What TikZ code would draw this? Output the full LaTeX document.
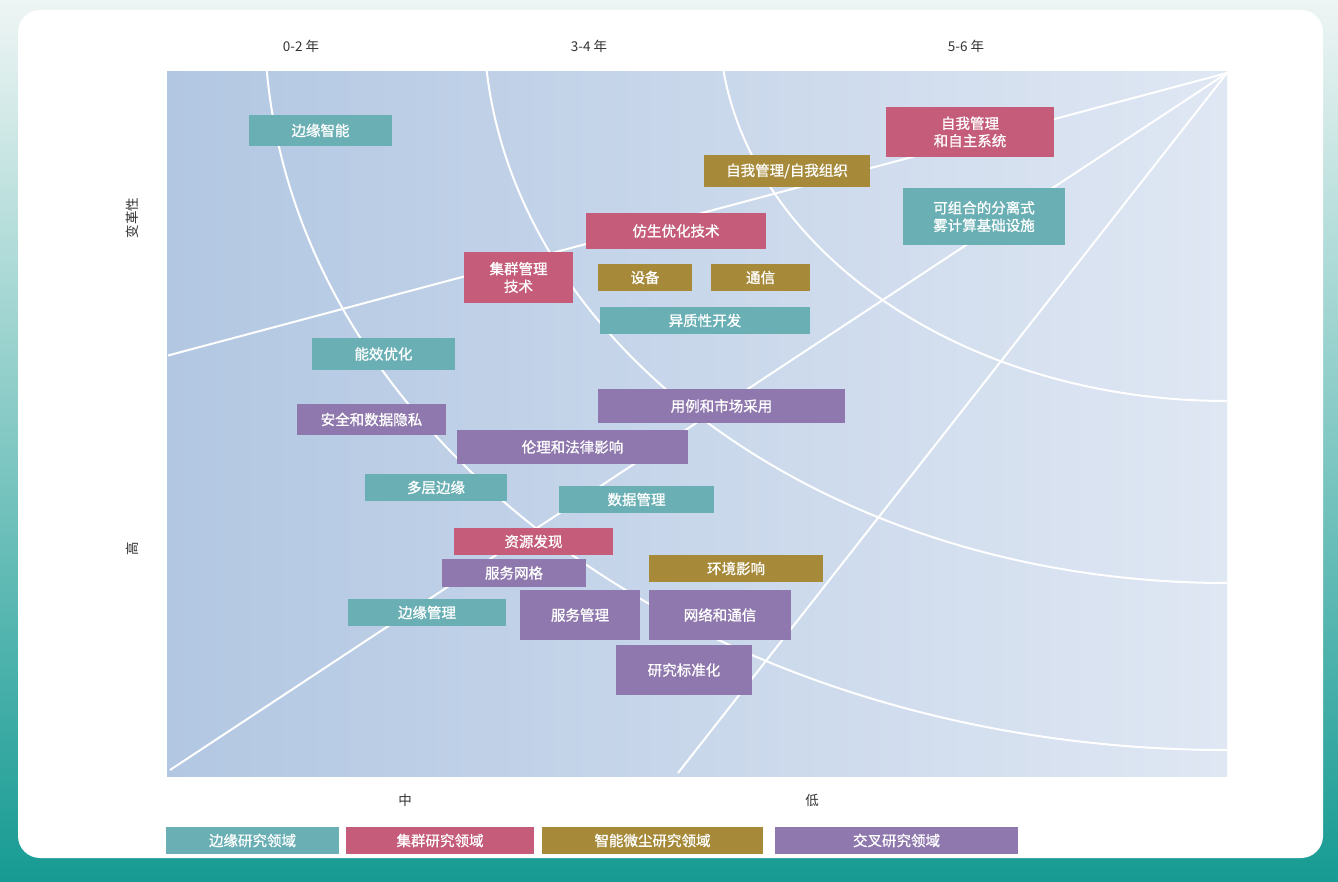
\documentclass[tikz,border=0pt]{standalone}
\usepackage{fontspec}
\newfontfamily\cjk{Noto Sans CJK SC}
\newfontfamily\cjkbox{Noto Sans CJK SC}[FakeBold=0.9]
\definecolor{edgeC}{HTML}{6AAFB4}
\definecolor{swarmC}{HTML}{C45C7A}
\definecolor{dustC}{HTML}{A68A3A}
\definecolor{crossC}{HTML}{8F78AD}
\definecolor{plotL}{HTML}{B2C7E2}
\definecolor{plotR}{HTML}{DFE7F3}
\definecolor{bgTop}{HTML}{EEF5F4}
\definecolor{bgBot}{HTML}{169B93}
\definecolor{axisT}{HTML}{333333}
\begin{document}
\begin{tikzpicture}[x=1pt,y=-1pt,
  area/.style={inner sep=0pt, text=white, align=center,
    font=\cjkbox\fontsize{14.5}{17.5}\selectfont},
  edgebox/.style={area, fill=edgeC},
  swarmbox/.style={area, fill=swarmC},
  dustbox/.style={area, fill=dustC},
  crossbox/.style={area, fill=crossC},
  guide/.style={white, line width=2pt},
  axislabel/.style={text=axisT, inner sep=0pt, font=\cjk\fontsize{13.5}{15}\selectfont}]
\useasboundingbox (0,0) rectangle (1338,882);

% page background and card
\shade[top color=bgTop, bottom color=bgBot] (0,0) rectangle (1338,882);
\fill[white, rounded corners=22pt] (18,10) rectangle (1323,858);

% plot field
\shade[left color=plotL, right color=plotR] (167,72) rectangle (1227,776);

% time horizons (elliptic guides)
\begin{scope}
  \clip (167,72) rectangle (1227,776);
  \draw[guide] (1227,20) ellipse [x radius=962.5, y radius=730];
  \draw[guide] (1227,20) ellipse [x radius=743.3, y radius=563];
  \draw[guide] (1227,20) ellipse [x radius=508, y radius=381];
\end{scope}

% impact rays
\coordinate (apex) at (1227,73);
\coordinate (rayA) at (168,355.5);
\coordinate (rayB) at (170,770);
\coordinate (rayC) at (678,773);
\draw[guide] (apex) -- (rayA);
\draw[guide] (apex) -- (rayB);
\draw[guide] (apex) -- (rayC);

% axis labels
\node[axislabel] (t1) at (301,46) {0-2 年};
\node[axislabel] (t2) at (589,46) {3-4 年};
\node[axislabel] (t3) at (966,46) {5-6 年};
\node[axislabel, rotate=90] (ytop) at (132,218) {变革性};
\node[axislabel, rotate=90] (ymid) at (132,549) {高};
\node[axislabel] (xmid) at (405,800) {中};
\node[axislabel] (xlow) at (812,800) {低};

% research topics
\node[edgebox, minimum width=143pt, minimum height=31pt] (b1) at (320.5,130.5) {边缘智能};
\node[swarmbox, minimum width=168pt, minimum height=50pt] (b2) at (970,132) {自我管理\\和自主系统};
\node[dustbox, minimum width=166pt, minimum height=32pt] (b3) at (787,171) {自我管理/自我组织};
\node[edgebox, minimum width=162pt, minimum height=57pt] (b4) at (984,216.5) {可组合的分离式\\雾计算基础设施};
\node[swarmbox, minimum width=180pt, minimum height=36pt] (b5) at (676,231) {仿生优化技术};
\node[swarmbox, minimum width=109pt, minimum height=51pt] (b6) at (518.5,277.5) {集群管理\\技术};
\node[dustbox, minimum width=94pt, minimum height=27pt] (b7) at (645,277.5) {设备};
\node[dustbox, minimum width=99pt, minimum height=27pt] (b8) at (760.5,277.5) {通信};
\node[edgebox, minimum width=210pt, minimum height=27pt] (b9) at (705,320.5) {异质性开发};
\node[edgebox, minimum width=143pt, minimum height=32pt] (b10) at (383.5,354) {能效优化};
\node[crossbox, minimum width=247pt, minimum height=34pt] (b11) at (721.5,406) {用例和市场采用};
\node[crossbox, minimum width=149pt, minimum height=31pt] (b12) at (371.5,419.5) {安全和数据隐私};
\node[crossbox, minimum width=231pt, minimum height=34pt] (b13) at (572.5,447) {伦理和法律影响};
\node[edgebox, minimum width=142pt, minimum height=27pt] (b14) at (436,487.5) {多层边缘};
\node[edgebox, minimum width=155pt, minimum height=27pt] (b15) at (636.5,499.5) {数据管理};
\node[swarmbox, minimum width=159pt, minimum height=27pt] (b16) at (533.5,541.5) {资源发现};
\node[dustbox, minimum width=174pt, minimum height=27pt] (b17) at (736,568.5) {环境影响};
\node[crossbox, minimum width=144pt, minimum height=28pt] (b18) at (514,573) {服务网格};
\node[edgebox, minimum width=158pt, minimum height=27pt] (b19) at (427,612.5) {边缘管理};
\node[crossbox, minimum width=120pt, minimum height=50pt] (b20) at (580,615) {服务管理};
\node[crossbox, minimum width=142pt, minimum height=50pt] (b21) at (720,615) {网络和通信};
\node[crossbox, minimum width=136pt, minimum height=50pt] (b22) at (684,670) {研究标准化};

% legend
\node[edgebox, minimum width=173pt, minimum height=27pt] (k1) at (252.5,840.5) {边缘研究领域};
\node[swarmbox, minimum width=188pt, minimum height=27pt] (k2) at (440,840.5) {集群研究领域};
\node[dustbox, minimum width=221pt, minimum height=27pt] (k3) at (652.5,840.5) {智能微尘研究领域};
\node[crossbox, minimum width=243pt, minimum height=27pt] (k4) at (896.5,840.5) {交叉研究领域};
\end{tikzpicture}
\end{document}
